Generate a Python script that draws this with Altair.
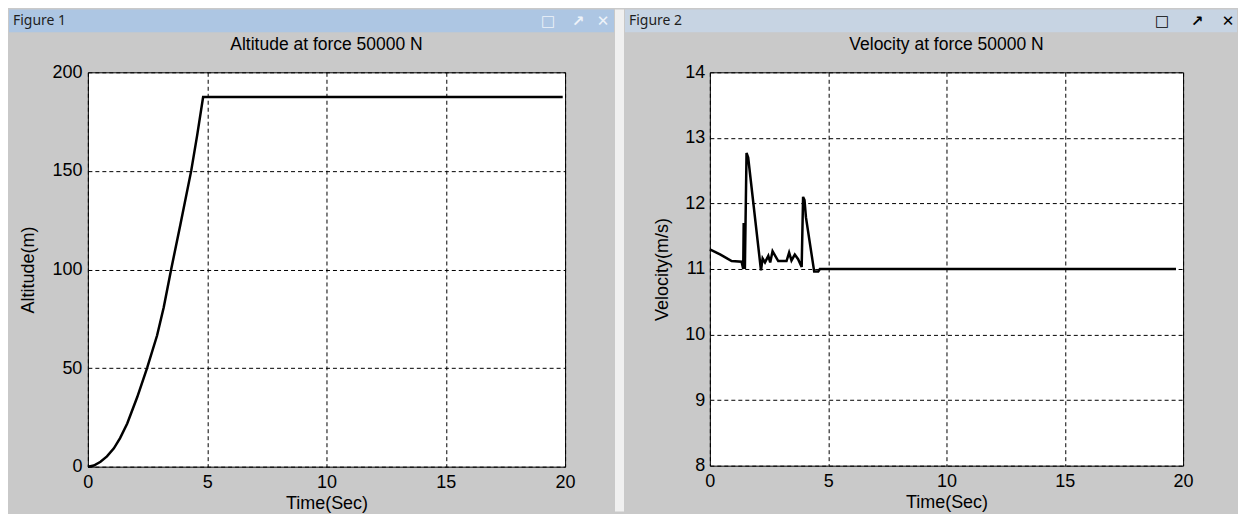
import altair as alt
import pandas as pd

# ---- data ----
alt_time = [0, 0.25, 0.53, 0.8, 1.09, 1.35, 1.65, 2.07, 2.48, 2.9, 3.18, 3.49, 3.88, 4.33, 4.58, 4.83, 19.9]
alt_value = [0, 0.6, 2.5, 5.2, 9.3, 14.5, 21.9, 35.3, 50, 66.5, 80.8, 100, 123, 150, 168, 187.5, 187.5]

vel_time = [0, 0.45, 0.92, 1.34, 1.41, 1.43, 1.45, 1.48, 1.55, 1.62, 1.72, 2.16, 2.23, 2.33, 2.47, 2.55,
            2.65, 2.89, 3.24, 3.35, 3.45, 3.59, 3.73, 3.88, 3.94, 4.0, 4.06, 4.41, 4.58, 4.65, 19.7]
vel_value = [11.3, 11.22, 11.12, 11.11, 11.0, 11.7, 11.65, 11.0, 12.77, 12.7, 12.38, 10.98, 11.16, 11.1, 11.2, 11.1,
             11.27, 11.12, 11.12, 11.25, 11.13, 11.22, 11.15, 11.03, 12.1, 12.05, 11.79, 10.96, 10.96, 11.0, 11.0]

x_ticks = [0, 5, 10, 15, 20]
alt_ticks = [0, 50, 100, 150, 200]
vel_ticks = [8, 9, 10, 11, 12, 13, 14]

titles = ["Altitude at force 50000 N", "Velocity at force 50000 N"]
window_names = ["Figure 1", "Figure 2"]
window_icons = ["□", "↗", "✕"]
x_title = "Time(Sec)"
y_titles = ["Altitude(m)", "Velocity(m/s)"]

FONT = "Liberation Sans"
GRAY = "#c9c9c9"
FS = 18

altitude_df = pd.DataFrame({"t": alt_time, "v": alt_value, "i": range(len(alt_time))})
velocity_df = pd.DataFrame({"t": vel_time, "v": vel_value, "i": range(len(vel_time))})


def axis(values, title, **kw):
    return alt.Axis(values=values, title=title, grid=True, gridDash=[4, 3], gridColor="black",
                    gridWidth=1, gridOpacity=1, domain=False, ticks=False, labelFont=FONT,
                    labelFontSize=FS, labelColor="black", labelFlush=False, titleFont=FONT,
                    titleFontSize=FS, titleFontWeight="normal", titleColor="black", **kw)


def one(text):
    return alt.Chart(pd.DataFrame({"n": [text]}))


def chrome(name, title, plot_w, bar_x, bar_x2, bar_color, icon_x, icon_color, name_x, sep=None):
    layers = []
    if sep is not None:
        layers.append(one(name).mark_rect(color="#f0f0f0").encode(
            x=alt.value(sep[0]), x2=alt.value(sep[1]), y=alt.value(-63), y2=alt.value(440)))
    layers.append(one(name).mark_rect(color=bar_color).encode(
        x=alt.value(bar_x), x2=alt.value(bar_x2), y=alt.value(-63), y2=alt.value(-40)))
    layers.append(one(name).mark_text(
        align="left", baseline="middle", font="Noto Sans", fontSize=14, color="#1e1e1e").encode(
        x=alt.value(name_x), y=alt.value(-51), text="n:N"))
    for s, xv in zip(window_icons, icon_x):
        layers.append(one(s).mark_text(
            align="center", baseline="middle", font="DejaVu Sans", fontSize=15, fontWeight="bold",
            color=icon_color).encode(x=alt.value(xv), y=alt.value(-51), text="n:N"))
    layers.append(one(title).mark_text(
        align="center", baseline="middle", font=FONT, fontSize=17.5, color="black").encode(
        x=alt.value(plot_w / 2), y=alt.value(-27), text="n:N"))
    return layers


left_line = alt.Chart(altitude_df).mark_line(color="black", strokeWidth=2.5).encode(
    x=alt.X("t:Q", scale=alt.Scale(domain=[0, 20]), axis=axis(x_ticks, x_title, labelPadding=7, titlePadding=3)),
    y=alt.Y("v:Q", scale=alt.Scale(domain=[0, 200]), axis=axis(alt_ticks, y_titles[0], labelPadding=6, titlePadding=14)),
    order="i:Q")

right_line = alt.Chart(velocity_df).mark_line(color="black", strokeWidth=2.5).encode(
    x=alt.X("t:Q", scale=alt.Scale(domain=[0, 20]), axis=axis(x_ticks, x_title, labelPadding=7, titlePadding=3)),
    y=alt.Y("v:Q", scale=alt.Scale(domain=[8, 14]), axis=axis(vel_ticks, y_titles[1], labelPadding=5, titlePadding=13)),
    order="i:Q")

left = alt.layer(
    *chrome(window_names[0], titles[0], 478, -79, 527, "#adc6e3", [461, 491, 516], "#eef3f9", -75, sep=(528, 537)),
    left_line,
).properties(width=478, height=395)

right = alt.layer(
    *chrome(window_names[1], titles[1], 474, -85, 528, "#c7d4e3", [453, 488, 519], "black", -81),
    right_line,
).properties(width=474, height=394)

chart = alt.hconcat(left, right, spacing=145, bounds="flush").properties(
    padding=0, background=GRAY
).configure_view(stroke="black", strokeWidth=1, fill="white")

chart.save("out.html", embed_options={"renderer": "svg", "actions": False})
